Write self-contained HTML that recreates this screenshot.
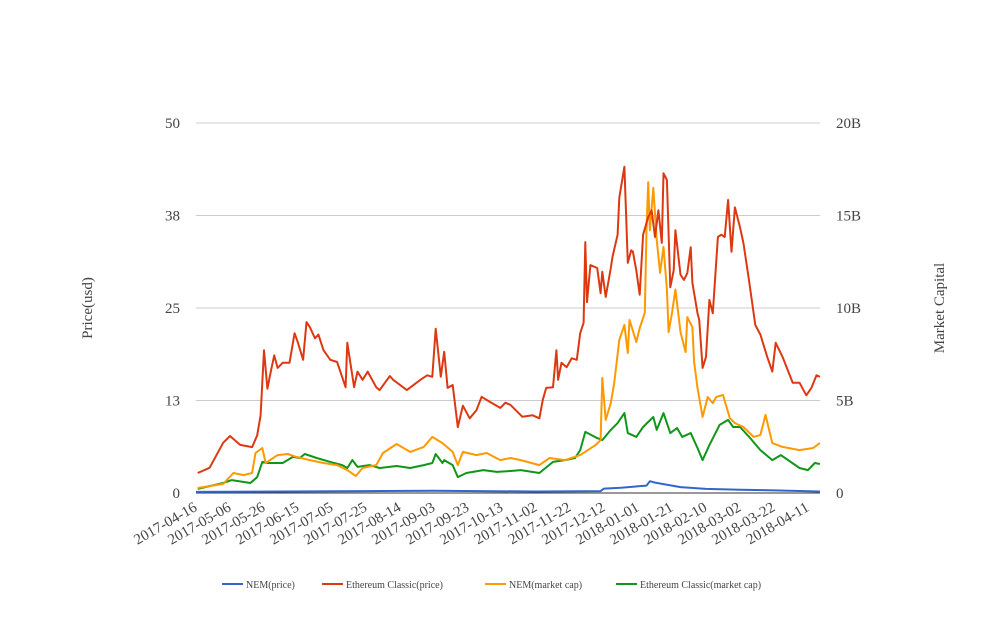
<!DOCTYPE html>
<html><head><meta charset="utf-8"><style>
body{margin:0;background:#fff;}
svg text{font-family:"Liberation Serif",serif;fill:#444;}
</style></head><body>
<svg id="chart" width="1008" height="616" viewBox="0 0 1008 616" xmlns="http://www.w3.org/2000/svg">
<g id="grid"></g>
<g id="series"></g>
<g id="axes"></g>
<text x="92" y="308" font-size="15" text-anchor="middle" transform="rotate(-90 92 308)">Price(usd)</text>
<text x="944" y="308" font-size="15" text-anchor="middle" transform="rotate(-90 944 308)">Market Capital</text>
<g id="legend"></g>
</svg>
<script>
const startDate = "2017-04-16";
const leftTicks = [0, 12.5, 25, 37.5, 50];
const leftTickLabels = ["0", "13", "25", "38", "50"];
const rightTicks = [0, 5, 10, 15, 20];
const rightTickLabels = ["0", "5B", "10B", "15B", "20B"];
const xTickDays = [0,20,40,60,80,100,120,140,160,180,200,220,240,260,280,300,320,340,360];
const seriesNames = ["NEM(price)", "Ethereum Classic(price)", "NEM(market cap)", "Ethereum Classic(market cap)"];

const nemPriceDays = [0,50,100,140,200,238,240,250,260,265,267,270,275,285,300,320,340,367];
const nemPriceVals = [0.15,0.2,0.25,0.3,0.2,0.25,0.6,0.7,0.9,1.0,1.6,1.4,1.2,0.8,0.55,0.45,0.35,0.2];

const etcPriceDays = [1,8,16,20,26,33,36,38,40,42,44,46,48,51,55,58,60,63,65,67,70,72,75,79,83,88,89,93,95,98,101,106,108,114,116,124,132,136,139,141,144,146,148,151,154,157,161,165,168,173,179,182,185,192,198,202,204,206,210,212,213,215,218,221,224,226,228,229,230,232,236,238,239,241,244,245,248,249,252,254,256,257,259,261,263,266,268,270,272,274,275,277,279,281,282,285,287,289,291,292,295,296,298,300,302,304,307,309,311,313,315,317,320,322,325,329,332,336,339,341,345,351,355,359,362,365,367];
const etcPriceVals = [2.7,3.4,6.8,7.7,6.5,6.2,7.8,10.5,19.3,14.1,16.4,18.6,16.9,17.6,17.6,21.6,20.3,18.0,23.1,22.4,20.9,21.4,19.3,18.0,17.7,14.3,20.3,14.3,16.4,15.3,16.4,14.3,13.9,15.8,15.3,13.9,15.3,15.9,15.7,22.2,15.7,19.1,14.2,14.6,8.9,11.8,10.1,11.2,13.0,12.3,11.5,12.2,11.9,10.3,10.5,10.1,12.6,14.2,14.3,19.3,15.3,17.6,17.0,18.2,18.0,21.6,23.0,33.9,25.8,30.8,30.4,27.0,29.9,26.5,30.4,31.9,34.9,39.9,44.1,31.1,32.8,32.6,30.1,26.8,34.9,37.3,38.2,34.6,38.2,33.8,43.2,42.3,27.8,30.1,35.5,29.5,28.8,29.7,33.2,28.4,24.3,23.4,16.9,18.4,26.1,24.3,34.6,34.9,34.6,39.6,32.6,38.6,35.9,33.8,29.2,22.7,21.4,18.4,16.4,20.3,18.4,14.9,14.9,13.2,14.2,15.9,15.7];

const nemCapDays = [1,16,22,28,33,35,39,41,48,54,59,67,75,83,89,94,98,106,110,118,126,134,139,145,151,154,157,165,171,179,185,191,202,208,217,226,235,238,239,241,244,246,249,252,254,255,259,261,264,265,266,267,269,271,273,275,277,278,280,282,285,288,289,292,293,295,298,301,304,306,310,314,317,322,328,332,335,339,345,355,363,367];
const nemCapVals = [0.27,0.49,1.08,0.97,1.08,2.16,2.43,1.62,2.05,2.11,1.95,1.78,1.62,1.51,1.24,0.92,1.35,1.51,2.16,2.65,2.22,2.49,3.03,2.70,2.22,1.51,2.22,2.05,2.16,1.78,1.89,1.78,1.51,1.89,1.78,2.05,2.59,2.86,6.22,3.95,4.86,5.95,8.27,9.08,7.57,9.35,8.16,8.92,9.73,14.2,16.8,14.2,16.5,13.7,11.9,13.3,11.0,8.7,9.73,11.0,8.7,7.62,9.51,8.97,7.08,5.68,4.11,5.19,4.86,5.19,5.30,4.05,3.78,3.57,3.03,3.14,4.22,2.70,2.49,2.32,2.43,2.70];

const etcCapDays = [1,16,21,32,36,39,42,51,57,61,64,71,79,86,89,92,95,102,108,118,126,134,139,141,145,146,151,154,159,169,177,185,191,202,210,217,223,226,229,236,239,244,248,252,254,259,263,269,271,275,279,283,286,291,295,298,302,308,313,316,320,326,332,339,344,355,360,364,367];
const etcCapVals = [0.22,0.54,0.70,0.54,0.86,1.68,1.62,1.62,1.95,1.89,2.11,1.89,1.68,1.51,1.35,1.78,1.41,1.51,1.35,1.46,1.35,1.51,1.62,2.11,1.62,1.78,1.51,0.86,1.08,1.24,1.14,1.19,1.24,1.08,1.68,1.78,1.89,2.32,3.30,2.97,2.86,3.41,3.78,4.32,3.24,3.03,3.57,4.11,3.41,4.32,3.24,3.51,3.03,3.24,2.43,1.78,2.59,3.68,3.95,3.57,3.57,2.97,2.32,1.78,2.05,1.35,1.24,1.62,1.57];

const colors = ["#3366cc", "#dc3912", "#ff9900", "#109618"];
const X0 = 196, PXDAY = 1.7, YB = 493, YT = 123;
const xScale = d => X0 + d * PXDAY;
const yLeft = v => YB - (v / 50) * (YB - YT);
const yRight = v => YB - (v / 20) * (YB - YT);
const NS = "http://www.w3.org/2000/svg";
const mk = (tag, parent) => { const e = document.createElementNS(NS, tag); parent.appendChild(e); return e; };

const grid = document.getElementById("grid");
const axes = document.getElementById("axes");
leftTicks.forEach((t, i) => {
  const y = yLeft(t);
  const l = mk("line", grid);
  
  
  l.setAttribute("x1", 196); l.setAttribute("x2", 820); l.setAttribute("y1", y); l.setAttribute("y2", y);
  l.setAttribute("stroke", i === 0 ? "#333" : "#ccc"); l.setAttribute("stroke-width", 1);
  const tx = mk("text", axes);
  
  
  tx.setAttribute("x", 180); tx.setAttribute("y", y + 5); tx.setAttribute("text-anchor", "end"); tx.setAttribute("font-size", 15);
  tx.textContent = leftTickLabels[i];
});
rightTicks.forEach((t, i) => {
  const tx = mk("text", axes);
  
  
  tx.setAttribute("x", 836); tx.setAttribute("y", yRight(t) + 5); tx.setAttribute("font-size", 15);
  tx.textContent = rightTickLabels[i];
});
const base = new Date(startDate + "T00:00:00Z");
xTickDays.forEach(d => {
  const dt = new Date(base.getTime() + d * 86400000);
  const x = xScale(d) + 2, y = 510;
  const tx = mk("text", axes);
  
  
  tx.setAttribute("x", x); tx.setAttribute("y", y); tx.setAttribute("text-anchor", "end"); tx.setAttribute("font-size", 15);
  tx.setAttribute("transform", `rotate(-30 ${x} ${y})`);
  tx.textContent = dt.toISOString().slice(0, 10);
});

const series = document.getElementById("series");
const drawLine = (days, vals, yfn, color, name) => {
  const p = mk("path", series);
  
  
  p.setAttribute("d", days.map((d, i) => (i ? "L" : "M") + xScale(d).toFixed(1) + " " + yfn(vals[i]).toFixed(1)).join(""));
  p.setAttribute("fill", "none"); p.setAttribute("stroke", color); p.setAttribute("stroke-width", 2); p.setAttribute("stroke-linejoin", "round");
};
drawLine(etcCapDays, etcCapVals, yRight, colors[3], "etc-market-cap-line");
drawLine(nemCapDays, nemCapVals, yRight, colors[2], "nem-market-cap-line");
drawLine(etcPriceDays, etcPriceVals, yLeft, colors[1], "etc-price-line");
drawLine(nemPriceDays, nemPriceVals, yLeft, colors[0], "nem-price-line");

const legend = document.getElementById("legend");
const legX = [222, 322, 485, 616];
seriesNames.forEach((n, i) => {
  const g = mk("g", legend);
  
  
  const l = mk("line", g);
  l.setAttribute("x1", legX[i]); l.setAttribute("x2", legX[i] + 21); l.setAttribute("y1", 584); l.setAttribute("y2", 584);
  l.setAttribute("stroke", colors[i]); l.setAttribute("stroke-width", 2);
  const t = mk("text", g);
  t.setAttribute("x", legX[i] + 24); t.setAttribute("y", 588); t.setAttribute("font-size", 10);
  t.textContent = n;
});
</script>
</body></html>
